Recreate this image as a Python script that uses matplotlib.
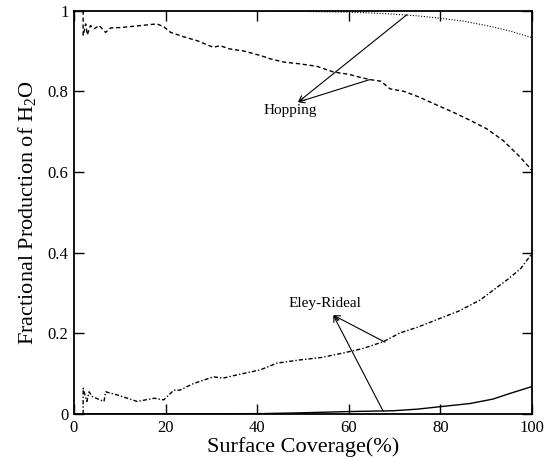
import numpy as np
import matplotlib
matplotlib.use("Agg")
import matplotlib.pyplot as plt
from matplotlib.ticker import FuncFormatter

plt.rcParams['font.family'] = ['Liberation Serif', 'DejaVu Serif']
plt.rcParams['mathtext.fontset'] = 'custom'
plt.rcParams['mathtext.rm'] = 'Liberation Serif'

# total hopping (dotted, top)
x_top = [0, 10, 20, 30, 40, 50, 60, 65, 70, 75, 80, 85, 90, 95, 100]
y_top = [1.0, 1.0, 1.0, 1.0, 0.999, 0.998, 0.996, 0.994, 0.991, 0.987, 0.981, 0.974, 0.963, 0.950, 0.933]

# hopping (dashed)
x_hop = [2.0, 2.0, 2.55, 2.9, 3.6, 4.4, 5.5, 6.9, 8.0, 10, 12, 14.6, 18.1, 19.6, 21.1, 24, 27,
         30.4, 31.9, 34, 37, 40.6, 43, 46, 49.3, 53, 56.6, 60, 62, 64.6, 67, 69, 72, 75.5,
         79, 82.8, 86.5, 90.1, 93.7, 97.4, 100]
y_hop = [1.0, 0.938, 0.967, 0.940, 0.963, 0.955, 0.963, 0.946, 0.957, 0.958, 0.960, 0.963, 0.967, 0.960, 0.946, 0.935, 0.925,
         0.909, 0.913, 0.905, 0.900, 0.889, 0.880, 0.872, 0.868, 0.862, 0.848, 0.842, 0.836, 0.829, 0.825, 0.806, 0.800, 0.785,
         0.767, 0.748, 0.728, 0.707, 0.678, 0.637, 0.604]

# Eley-Rideal (dash-dot)
x_er = [2.0, 2.0, 2.8, 3.3, 4.0, 6.55, 6.9, 9.5, 13.8, 17.5, 19.6, 21.8, 23.1, 26, 30.4, 32.6,
        36, 40.6, 44.3, 49.3, 54, 58.7, 63, 67.5, 71.2, 75, 79.9, 84, 88.6, 94.5, 97.5, 100]
y_er = [0.0, 0.064, 0.031, 0.055, 0.043, 0.031, 0.055, 0.047, 0.031, 0.039, 0.035, 0.059, 0.059, 0.075, 0.092, 0.089,
        0.098, 0.109, 0.126, 0.134, 0.140, 0.151, 0.162, 0.179, 0.201, 0.215, 0.237, 0.255, 0.282, 0.332, 0.360, 0.398]

# Eley-Rideal (solid, bottom)
x_bot = [0, 20, 41.3, 50, 60, 69.7, 75, 79.9, 86.5, 91.5, 95.2, 100]
y_bot = [0.0, 0.0, 0.001, 0.003, 0.006, 0.008, 0.012, 0.018, 0.026, 0.037, 0.051, 0.068]

fig = plt.figure(figsize=(5.58, 4.61), dpi=100)
ax = fig.add_axes([0.1326, 0.102, 0.8208, 0.875])

ax.plot(x_top, y_top, color='k', lw=0.8, linestyle=(0, (1, 1.5)))
ax.plot(x_hop, y_hop, color='k', lw=1.0, linestyle=(0, (3, 2)))
ax.plot(x_er, y_er, color='k', lw=1.0, linestyle=(0, (3, 1.5, 1, 1.5)))
ax.plot(x_bot, y_bot, color='k', lw=1.0)

arrow = dict(arrowstyle='->', color='k', lw=0.8, shrinkA=0, shrinkB=0)
ax.annotate('', xy=(48.9, 0.773), xytext=(72.7, 0.99), arrowprops=arrow)
ax.annotate('', xy=(48.9, 0.773), xytext=(64.6, 0.829), arrowprops=arrow)
ax.text(47.3, 0.752, 'Hopping', ha='center', va='center', fontsize=11)

ax.annotate('', xy=(56.6, 0.245), xytext=(67.9, 0.178), arrowprops=arrow)
ax.annotate('', xy=(56.6, 0.245), xytext=(67.5, 0.007), arrowprops=arrow)
ax.text(54.8, 0.275, 'Eley-Rideal', ha='center', va='center', fontsize=11)

ax.set_xlim(0, 100)
ax.set_ylim(0, 1)
ax.set_xticks(np.arange(0, 101, 20))
ax.set_yticks(np.arange(0, 1.01, 0.2))
ax.yaxis.set_major_formatter(FuncFormatter(lambda v, p: '%g' % round(v, 1)))
ax.tick_params(direction='in', length=7.5, width=1.0, top=True, right=True, labelsize=12, pad=4)
for s in ax.spines.values():
    s.set_linewidth(1.3)

ax.set_xlabel('Surface Coverage(%)', fontsize=16, labelpad=1)
ax.set_ylabel('Fractional Production of H$_2$O', fontsize=16, labelpad=6)

fig.savefig('out.png', dpi=100)
